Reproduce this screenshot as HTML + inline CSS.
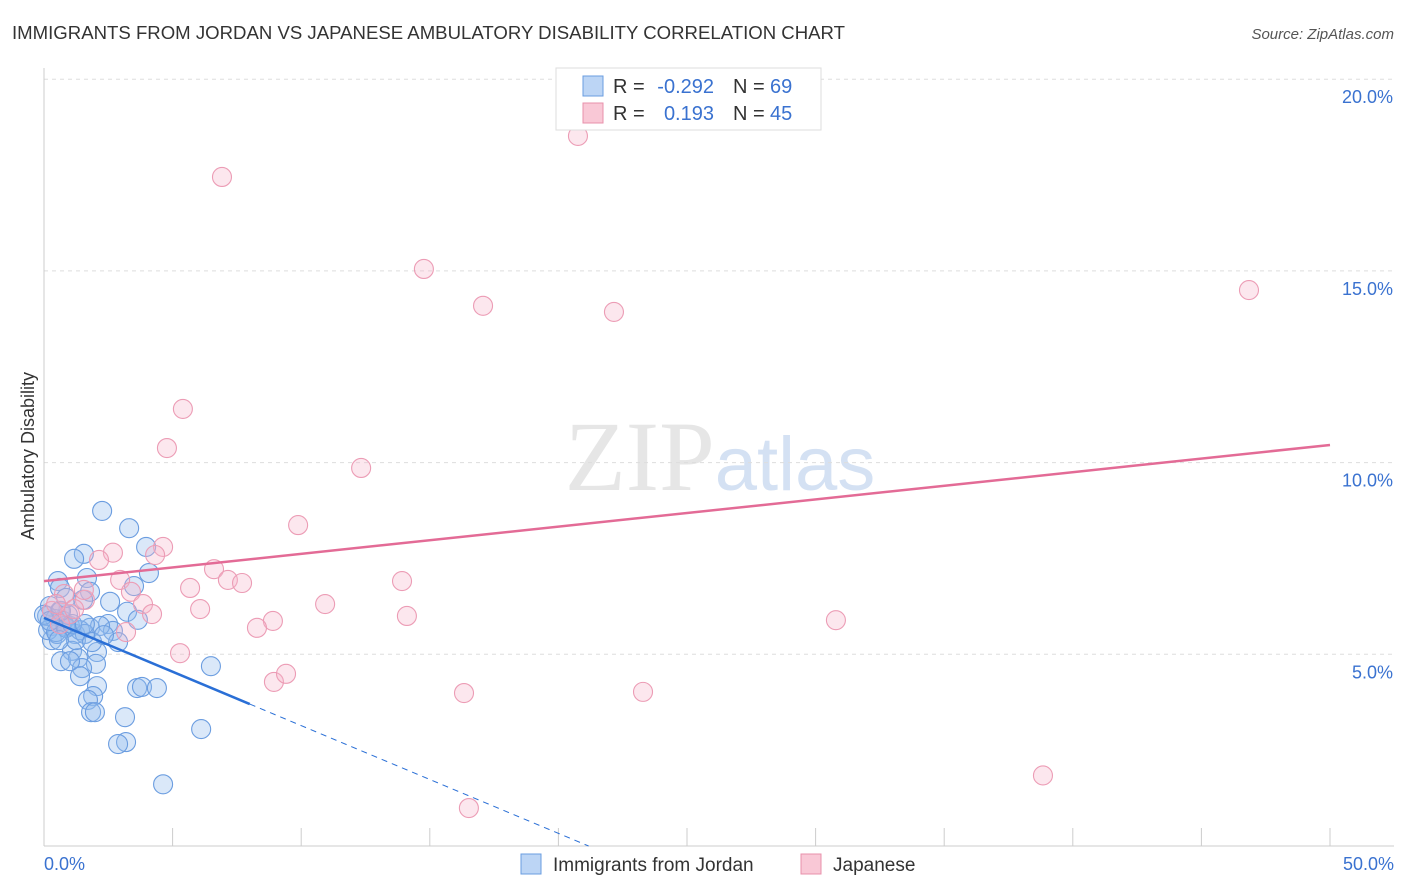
<!DOCTYPE html>
<html><head><meta charset="utf-8"><style>
body{margin:0;background:#fff;font-family:"Liberation Sans",sans-serif}
svg{display:block}
</style></head><body>
<svg id="chart" width="1406" height="892" xmlns="http://www.w3.org/2000/svg">
<text x="12" y="39" font-size="18" fill="#333" textLength="833" lengthAdjust="spacingAndGlyphs">IMMIGRANTS FROM JORDAN VS JAPANESE AMBULATORY DISABILITY CORRELATION CHART</text>
<text x="1394" y="39" font-size="15" fill="#555" font-style="italic" text-anchor="end">Source: ZipAtlas.com</text>
<text x="720" y="490" font-size="100" text-anchor="middle" font-family="Liberation Serif,serif" fill="#e6e6e6">ZIP<tspan fill="#d4e1f3" font-family="Liberation Sans,sans-serif" font-size="76">atlas</tspan></text>
<g id="grid"></g>
<g id="axes"></g>
<g id="pts"></g>
<g id="trends"></g>
<text transform="translate(34,456) rotate(-90)" font-size="18" fill="#333" text-anchor="middle">Ambulatory Disability</text>
<g font-size="20">
<rect x="556" y="68" width="265" height="62" fill="#fff" stroke="#ddd"/>
<rect x="583" y="76" width="20" height="20" fill="#bcd5f5" stroke="#6a9de0"/>
<rect x="583" y="103" width="20" height="20" fill="#f9c8d6" stroke="#e890ab"/>
<text x="613" y="93" fill="#333">R =</text>
<text x="714" y="93" fill="#3a72d0" text-anchor="end">-0.292</text>
<text x="733" y="93" fill="#333">N =</text>
<text x="770" y="93" fill="#3a72d0">69</text>
<text x="613" y="120" fill="#333">R =</text>
<text x="714" y="120" fill="#3a72d0" text-anchor="end">0.193</text>
<text x="733" y="120" fill="#333">N =</text>
<text x="770" y="120" fill="#3a72d0">45</text>
</g>
<g>
<rect x="521" y="854" width="20" height="20" fill="#bcd5f5" stroke="#6a9de0"/>
<text x="553" y="871" font-size="19" fill="#333">Immigrants from Jordan</text>
<rect x="801" y="854" width="20" height="20" fill="#f9c8d6" stroke="#e890ab"/>
<text x="833" y="871" font-size="19" fill="#333">Japanese</text>
</g>
</svg>
<script>
const xTicks=[0,5,10,15,20,25,30,35,40,45,50];
const yTicks=[5,10,15,20];
const blueX=[2.26,3.31,1.55,1.17,3.97,4.08,1.67,0.54,0.62,3.50,1.79,2.57,1.52,3.23,3.65,0.23,0.62,0.74,0.31,1.01,1.79,2.49,2.68,2.88,0.31,0.51,1.21,1.40,0.12,0.43,0.82,1.09,2.06,0.66,1.32,2.02,1.48,1.40,6.49,2.06,1.91,1.71,3.62,3.81,4.39,3.15,1.83,1.98,3.19,2.88,6.11,4.63,0.16,0.47,0.00,0.86,2.18,0.93,1.59,1.09,0.66,1.24,0.23,1.59,1.87,1.01,2.33,0.58,0.86];
const blueY=[8.74,8.29,7.62,7.49,7.80,7.12,6.99,6.91,6.73,6.78,6.63,6.37,6.42,6.11,5.90,6.26,6.13,5.87,5.74,5.74,5.69,5.79,5.61,5.32,5.37,5.53,5.53,5.63,6.00,5.92,5.74,5.09,5.06,4.82,4.90,4.75,4.64,4.43,4.69,4.17,3.91,3.81,4.12,4.15,4.12,3.36,3.49,3.49,2.71,2.66,3.05,1.61,5.63,5.58,6.03,5.69,5.74,6.03,5.53,5.79,6.13,5.37,5.87,5.79,5.32,4.82,5.50,5.37,6.47];
const pinkX=[20.76,6.92,14.77,17.07,22.16,46.85,5.40,4.78,12.33,9.88,4.63,4.32,2.68,2.14,6.61,2.96,3.38,7.15,7.70,5.68,13.92,10.93,6.07,3.85,4.20,14.11,8.90,8.28,30.79,3.19,5.29,1.59,0.78,1.01,0.31,0.62,8.94,9.41,16.33,23.29,38.84,16.52,1.55,0.47,1.17];
const pinkY=[18.52,17.45,15.05,14.09,13.93,14.50,11.40,10.38,9.86,8.37,7.80,7.59,7.65,7.46,7.22,6.94,6.63,6.94,6.86,6.73,6.91,6.31,6.18,6.31,6.05,6.00,5.87,5.69,5.89,5.58,5.03,6.42,6.57,6.05,6.13,5.79,4.28,4.49,3.99,4.02,1.84,0.99,6.68,6.31,6.18];
const pinkTrend=[6.91,10.46];
const blueTrend=[5.95,-0.281];
const NS="http://www.w3.org/2000/svg";
const X=v=>44+v*25.72, Y=v=>846-v*38.34;
function mk(tag,attrs,parent){const e=document.createElementNS(NS,tag);for(const k in attrs)e.setAttribute(k,attrs[k]);document.getElementById(parent).appendChild(e);return e;}
yTicks.forEach(t=>{
 const l=mk('line',{x1:44,x2:1394,y1:Y(t),y2:Y(t),stroke:'#ddd','stroke-dasharray':'4,4'},'grid');
 
 
 const tx=mk('text',{x:1393,y:Y(t)+24,'font-size':18,fill:'#3a72d0','text-anchor':'end'},'axes');
 tx.textContent=t.toFixed(1)+'%';
 
 
});
const ax=mk('line',{x1:44,x2:1394,y1:846,y2:846,stroke:'#ccc'},'axes');


const ay=mk('line',{x1:44,x2:44,y1:68,y2:846,stroke:'#ccc'},'axes');


xTicks.forEach(t=>{
 const l=mk('line',{x1:X(t),x2:X(t),y1:828,y2:846,stroke:'#ccc'},'axes');
 
 
});
[[0,'start',44],[50,'end',1394]].forEach(([t,a,x])=>{
 const tx=mk('text',{x:x,y:870,'font-size':18,fill:'#3a72d0','text-anchor':a},'axes');
 tx.textContent=t.toFixed(1)+'%';
 
 
});
blueX.forEach((v,i)=>{
 const c=mk('circle',{cx:X(v),cy:Y(blueY[i]),r:9.5,fill:'rgba(150,188,238,0.35)',stroke:'#6b9de0','stroke-width':1.1},'pts');
 
 
});
pinkX.forEach((v,i)=>{
 const c=mk('circle',{cx:X(v),cy:Y(pinkY[i]),r:9.5,fill:'rgba(247,180,202,0.32)',stroke:'#ec9cb5','stroke-width':1.1},'pts');
 
 
});
const pl=mk('line',{x1:X(0),y1:Y(pinkTrend[0]),x2:X(50),y2:Y(pinkTrend[1]),stroke:'#e36b96','stroke-width':2.5},'trends');


const bEnd=8.0, bZero=-blueTrend[0]/blueTrend[1];
const bl=mk('line',{x1:X(0),y1:Y(blueTrend[0]),x2:X(bEnd),y2:Y(blueTrend[0]+blueTrend[1]*bEnd),stroke:'#2a6fd6','stroke-width':2.5},'trends');


const bd=mk('line',{x1:X(bEnd),y1:Y(blueTrend[0]+blueTrend[1]*bEnd),x2:X(bZero),y2:Y(0),stroke:'#2a6fd6','stroke-width':1,'stroke-dasharray':'6,5'},'trends');


</script>
</body></html>
